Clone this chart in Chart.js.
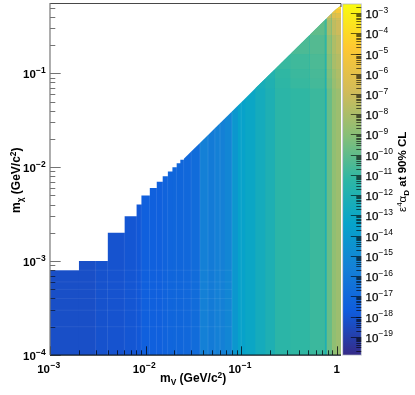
<!DOCTYPE html>
<html>
<head>
<meta charset="utf-8">
<style>
  html, body { margin: 0; padding: 0; background: #fff; }
  canvas { position: absolute; left: 0; top: 0; }
</style>
<script src="https://cdn.jsdelivr.net/npm/chart.js@4/dist/chart.umd.min.js"></script>
</head>
<body>
<canvas id="mapChart" width="415" height="395"></canvas>
<canvas id="barChart" width="415" height="395"></canvas>
<script>
// column edges in m_V
var xEdges = [0.001, 0.002, 0.003, 0.004, 0.006, 0.008, 0.009, 0.011, 0.013, 0.015, 0.017, 0.019, 0.021, 0.023, 0.025,
              0.03, 0.037, 0.045, 0.053, 0.067, 0.08, 0.092, 0.11, 0.14, 0.178, 0.225, 0.325, 0.52, 0.75, 0.78, 0.885, 0.98, 1.107];
// upper edge of the filled area at each column edge
var colTop = [0.0008, 0.001, 0.001, 0.002, 0.003, 0.004, 0.005, 0.006, 0.007, 0.008, 0.009, 0.01, 0.011, 0.012, 0.0122,
              0.0147, 0.0181, 0.022, 0.026, 0.0328, 0.0392, 0.0451, 0.0539, 0.0686, 0.0872, 0.11, 0.159, 0.255, 0.368, 0.382, 0.434, 0.48, 0.525];
// log10 of the limit in each column
var colLog = [-18.3, -18.3, -18.15, -18.1, -18.0, -17.9, -17.5, -17.5, -17.5, -17.3, -17.2, -17.1, -17.1, -17.1,
              -17.0, -16.8, -15.6, -15.9, -15.6, -15.2, -14.2, -13.5, -13.1, -12.6, -12.1, -11.4, -11.2, -10.9, -12.1, -9.8, -8.8, -8.45];
var firstSloped = 14; // columns before this one have flat tops

// near the diagonal the limit also changes with m_chi; rows use colTop from this column on
var upperFirstCol = 23;
var upperLog = [
  [-12.4, -12.0, -11.3, -11.0, -10.7, -11.9, -9.5, -8.6, -8.1],
  [null, -11.8, -11.2, -10.9, -10.6, -11.8, -9.3, -8.4, -7.9],
  [null, null, -11.0, -10.8, -10.5, -11.6, -9.1, -8.1, -7.7],
  [null, null, null, -10.5, -10.3, -11.3, -8.8, -7.9, -7.4],
  [null, null, null, null, -10.0, -10.9, -8.2, -7.4, -7.0],
  [null, null, null, null, null, -10.6, -7.8, -7.0, -6.6],
  [null, null, null, null, null, null, -7.0, -6.3, -6.0],
  [null, null, null, null, null, null, null, -5.4, -5.0],
  [null, null, null, null, null, null, null, null, -4.2]
];

// faint bin seams
var seamX = [0.003, 0.004, 0.006, 0.008, 0.009, 0.011, 0.013, 0.015, 0.017, 0.021, 0.025, 0.03, 0.037, 0.045, 0.053, 0.06, 0.08, 0.1];
var seamXTop = [0.001, 0.002, 0.003, 0.004, 0.005, 0.006, 0.007, 0.008, 0.009, 0.011, 0.012, 0.0147, 0.0181, 0.022, 0.026, 0.029, 0.0392, 0.049];
var seamY = [0.0002, 0.0003, 0.0004, 0.0005, 0.0006, 0.0008];

var xRange = [0.001, 1.107];
var yRange = [0.0001, 0.546];
var zRange = [1.26e-20, 2.82e-3];

var xTickVals = [0.001, 0.01, 0.1];
var xTickExps = ['\u22123', '\u22122', '\u22121'];
var yTickVals = [0.0001, 0.001, 0.01, 0.1];
var yTickExps = ['\u22124', '\u22123', '\u22122', '\u22121'];
var zTickExps = [3, 4, 5, 6, 7, 8, 9, 10, 11, 12, 13, 14, 15, 16, 17, 18, 19];

// ROOT kBird palette
var birdStops = [0, 0.125, 0.25, 0.375, 0.5, 0.625, 0.75, 0.875, 1];
var birdRed = [0.2082, 0.0592, 0.0780, 0.0232, 0.1802, 0.5301, 0.8186, 0.9956, 0.9764];
var birdGreen = [0.1664, 0.3599, 0.5041, 0.6419, 0.7178, 0.7492, 0.7328, 0.7862, 0.9832];
var birdBlue = [0.5293, 0.8684, 0.8385, 0.7914, 0.6425, 0.4662, 0.3499, 0.1968, 0.0539];

function stopColor(i, f) {
    var c = function (a) { return Math.round(255 * (a[i] + (a[Math.min(i + 1, 8)] - a[i]) * f)); };
    return 'rgb(' + c(birdRed) + ',' + c(birdGreen) + ',' + c(birdBlue) + ')';
}

function logColor(lg) {
    var lo = Math.log10(zRange[0]), hi = Math.log10(zRange[1]);
    var t = Math.max(0, Math.min(1, (lg - lo) / (hi - lo)));
    var i = Math.min(7, Math.floor(t * 8));
    return stopColor(i, t * 8 - i);
}

// column fills, later ones overpaint the overlap so no white gaps show
function columnSets() {
    var sets = [];
    colLog.forEach(function (lg, k) {
        var left = colTop[k];
        var right = k >= firstSloped ? colTop[k + 1] : left;
        var pts = [{x: xEdges[k], y: left}, {x: xEdges[k + 1], y: right}];
        if (k + 2 < xEdges.length) pts.push({x: xEdges[k + 2], y: right});
        sets.push({data: pts, fill: 'start', backgroundColor: logColor(lg), borderWidth: 0, pointRadius: 0});
    });
    return sets;
}

function upperSets() {
    var sets = [];
    upperLog.forEach(function (row, r) {
        var y0 = colTop[upperFirstCol + r], y1 = colTop[upperFirstCol + r + 1];
        row.forEach(function (lg, c) {
            if (lg === null) return;
            var x0 = xEdges[upperFirstCol + c], x1 = xEdges[upperFirstCol + c + 1];
            var pts = c === r ? [{x: x0, y: y0}, {x: x1, y: y1}] : [{x: x0, y: y1}, {x: x1, y: y1}];
            sets.push({data: pts, fill: {value: y0}, backgroundColor: logColor(lg), borderWidth: 0, pointRadius: 0});
        });
    });
    return sets;
}

function seamSets() {
    var sets = [];
    seamX.forEach(function (x, i) {
        sets.push({data: [{x: x, y: yRange[0]}, {x: x, y: seamXTop[i]}], fill: false, borderColor: 'rgba(255,255,255,0.1)', borderWidth: 1, pointRadius: 0});
    });
    seamY.forEach(function (y) {
        sets.push({data: [{x: xRange[0], y: y}, {x: 0.08, y: y}], fill: false, borderColor: 'rgba(255,255,255,0.07)', borderWidth: 1, pointRadius: 0});
    });
    return sets;
}

// draw text pieces in a row: normal, sub- and superscripts
function drawPieces(ctx, pieces, x, y, size) {
    pieces.forEach(function (p) {
        var s = p.shift ? size * 0.7 : size;
        ctx.font = (p.thin ? '' : 'bold ') + s + 'px "Liberation Sans"';
        ctx.fillText(p.t, x, y + (p.shift || 0));
        x += ctx.measureText(p.t).width;
    });
}

function isWhole(v) {
    var m = v / Math.pow(10, Math.floor(Math.log10(v) + 1e-9));
    return Math.abs(m - Math.round(m)) < 1e-6;
}

function isDecade(v) {
    var m = v / Math.pow(10, Math.floor(Math.log10(v) + 1e-9));
    return Math.abs(m - 1) < 1e-6;
}

var framePlugin = {
    id: 'frame',
    afterDraw: function (chart) {
        var ctx = chart.ctx, a = chart.chartArea;
        var xs = chart.scales.x, ys = chart.scales.y;
        ctx.save();
        ctx.lineWidth = 1;
        ctx.strokeStyle = 'rgba(5,10,20,0.8)';
        ctx.beginPath();
        xs.ticks.forEach(function (t) {
            if (!isWhole(t.value) || t.value > 1.0001) return;
            var px = Math.round(xs.getPixelForValue(t.value)) + 0.5;
            ctx.moveTo(px, a.bottom);
            ctx.lineTo(px, a.bottom - (isDecade(t.value) ? 8.7 : 4.7));
        });
        ctx.stroke();
        ctx.strokeStyle = 'rgba(0,0,0,0.55)';
        ctx.beginPath();
        ys.ticks.forEach(function (t) {
            if (!isWhole(t.value)) return;
            var py = Math.round(ys.getPixelForValue(t.value)) + 0.5;
            ctx.moveTo(a.left, py);
            ctx.lineTo(a.left + (isDecade(t.value) ? 10.7 : 5.3), py);
        });
        ctx.stroke();
        // top line and the short bit of right line above the tip
        ctx.strokeStyle = 'rgba(40,40,40,0.85)';
        ctx.beginPath();
        ctx.moveTo(a.left, a.top - 0.5);
        ctx.lineTo(a.right, a.top - 0.5);
        ctx.lineTo(a.right, a.top + 3);
        ctx.stroke();
        ctx.lineWidth = 1.2;
        ctx.strokeStyle = '#111820';
        ctx.beginPath();
        ctx.moveTo(a.left, a.bottom + 0.2);
        ctx.lineTo(a.right, a.bottom + 0.2);
        ctx.stroke();
        ctx.strokeStyle = '#777';
        ctx.beginPath();
        ctx.moveTo(a.left, a.top - 1);
        ctx.lineTo(a.left, a.bottom);
        ctx.stroke();

        ctx.fillStyle = '#000';
        xTickVals.forEach(function (v, i) {
            var px = xs.getPixelForValue(v);
            ctx.font = 'bold 11.5px "Liberation Sans"';
            ctx.textAlign = 'right';
            ctx.fillText('10', px, 373);
            ctx.textAlign = 'left';
            ctx.font = 'bold 8.5px "Liberation Sans"';
            ctx.fillText(xTickExps[i], px + 0.5, 368);
        });
        ctx.font = 'bold 11.5px "Liberation Sans"';
        ctx.textAlign = 'center';
        ctx.fillText('1', xs.getPixelForValue(1), 373);
        ctx.textAlign = 'left';
        yTickVals.forEach(function (v, i) {
            var py = ys.getPixelForValue(v);
            ctx.font = 'bold 11.5px "Liberation Sans"';
            ctx.fillText('10', 23, py + 4.5);
            ctx.font = 'bold 8.5px "Liberation Sans"';
            ctx.fillText(yTickExps[i], 36, py - 0.5);
        });
        drawPieces(ctx, [{t: 'm'}, {t: 'V', shift: 3}, {t: ' (GeV/c'}, {t: '2', shift: -4}, {t: ')'}], 160, 382, 12);
        ctx.translate(20, 213);
        ctx.rotate(-Math.PI / 2);
        drawPieces(ctx, [{t: 'm'}, {t: '\u03c7', shift: 3}, {t: ' (GeV/c'}, {t: '2', shift: -4}, {t: ')'}], 0, 0, 12);
        ctx.restore();
    }
};

var barPlugin = {
    id: 'barFrame',
    afterDraw: function (chart) {
        var ctx = chart.ctx, a = chart.chartArea, ys = chart.scales.y;
        ctx.save();
        ctx.strokeStyle = 'rgba(170,175,190,0.7)';
        ctx.lineWidth = 1;
        ctx.strokeRect(a.left, a.top, a.right - a.left, a.bottom - a.top);
        ctx.strokeStyle = 'rgba(0,0,0,0.6)';
        ctx.beginPath();
        ys.ticks.forEach(function (t) {
            if (!isWhole(t.value)) return;
            var py = Math.round(ys.getPixelForValue(t.value)) + 0.5;
            ctx.moveTo(a.right, py);
            ctx.lineTo(a.right - (isDecade(t.value) ? 10.5 : 5), py);
        });
        ctx.stroke();
        ctx.fillStyle = '#000';
        ctx.strokeStyle = '#000';
        ctx.lineWidth = 0.25;
        zTickExps.forEach(function (e) {
            var py = ys.getPixelForValue(Math.pow(10, -e));
            ctx.font = '11.5px "Liberation Sans"';
            ctx.fillText('10', 365.5, py + 5);
            ctx.strokeText('10', 365.5, py + 5);
            ctx.font = '8.5px "Liberation Sans"';
            ctx.fillText('\u2212' + e, 378.5, py - 0.5);
        });
        ctx.translate(405.5, 212);
        ctx.rotate(-Math.PI / 2);
        drawPieces(ctx, [{t: '\u03b5', thin: true}, {t: '4', shift: -4, thin: true}, {t: '\u03b1', thin: true}, {t: 'D', shift: 3}, {t: ' at 90% CL'}], 0, 0, 11.5);
        ctx.restore();
    }
};

new Chart(document.getElementById('mapChart').getContext('2d'), {
    type: 'line',
    data: {datasets: columnSets().concat(upperSets(), seamSets()).reverse()},
    options: {
        responsive: false,
        animation: false,
        elements: {line: {tension: 0}},
        layout: {padding: {left: 50, right: 74, top: 4, bottom: 40}},
        plugins: {legend: {display: false}, tooltip: {enabled: false}},
        scales: {
            x: {type: 'logarithmic', min: xRange[0], max: xRange[1], grid: {display: false}, border: {display: false},
                ticks: {display: false}, afterFit: function (s) { s.height = 0; }},
            y: {type: 'logarithmic', min: yRange[0], max: yRange[1], grid: {display: false}, border: {display: false},
                ticks: {display: false}, afterFit: function (s) { s.width = 0; }}
        }
    },
    plugins: [framePlugin]
});

new Chart(document.getElementById('barChart').getContext('2d'), {
    type: 'line',
    data: {datasets: [{
        data: [{x: 0, y: zRange[1]}, {x: 1, y: zRange[1]}],
        fill: 'start',
        borderWidth: 0,
        pointRadius: 0,
        backgroundColor: function (c) {
            var a = c.chart.chartArea;
            if (!a) return '#000';
            var g = c.chart.ctx.createLinearGradient(0, a.bottom, 0, a.top);
            birdStops.forEach(function (s, i) { g.addColorStop(s, stopColor(i, 0)); });
            return g;
        }
    }]},
    options: {
        responsive: false,
        animation: false,
        layout: {padding: {left: 342.7, right: 53.7, top: 4, bottom: 40}},
        plugins: {legend: {display: false}, tooltip: {enabled: false}},
        scales: {
            x: {type: 'linear', min: 0, max: 1, grid: {display: false}, border: {display: false},
                ticks: {display: false}, afterFit: function (s) { s.height = 0; }},
            y: {type: 'logarithmic', min: zRange[0], max: zRange[1], grid: {display: false}, border: {display: false},
                ticks: {display: false}, afterFit: function (s) { s.width = 0; }}
        }
    },
    plugins: [barPlugin]
});
</script>
</body>
</html>
